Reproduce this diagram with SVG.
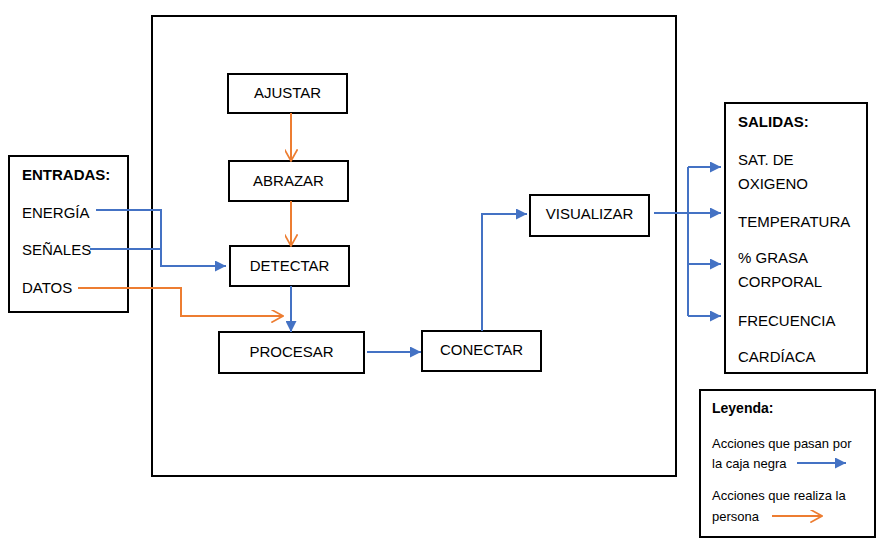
<svg xmlns="http://www.w3.org/2000/svg" width="882" height="547" viewBox="0 0 882 547">
<style>
.box{fill:#fff;stroke:#000;stroke-width:2}
.t{font-family:"Liberation Sans",Arial,sans-serif;font-size:15px;fill:#000}
.c{text-anchor:middle}
.b{font-weight:bold}
.s{font-family:"Liberation Sans",Arial,sans-serif;font-size:13px;fill:#000}
.blue{fill:none;stroke:#4472C4;stroke-width:2}
.orange{fill:none;stroke:#ED7D31;stroke-width:2}
</style>
<defs>
<marker id="ab" viewBox="0 0 10 10" refX="10" refY="5" markerWidth="5.5" markerHeight="5.5" orient="auto" markerUnits="strokeWidth"><path d="M0,0 L10,5 L0,10 z" fill="#4472C4"/></marker>
<marker id="ao" viewBox="0 0 10 10" refX="9" refY="5" markerWidth="6.5" markerHeight="6.5" orient="auto" markerUnits="strokeWidth"><path d="M0,0 L9,5 L0,10" fill="none" stroke="#ED7D31" stroke-width="1.3"/></marker>
</defs>
<rect width="882" height="547" fill="#fff"/>
<g id="blackbox"><rect class="box" x="152" y="16" width="524" height="460"/></g>
<g id="entradas"><rect class="box" x="9" y="156" width="119" height="156"/>
<text class="t b" x="22" y="180">ENTRADAS:</text>
<text class="t" x="22" y="218">ENERGÍA</text>
<text class="t" x="22" y="255">SEÑALES</text>
<text class="t" x="22" y="293">DATOS</text></g>
<g id="ajustar"><rect class="box" x="228" y="74" width="119" height="39"/><text class="t c" x="287.5" y="98">AJUSTAR</text></g>
<g id="abrazar"><rect class="box" x="229" y="161" width="119" height="40"/><text class="t c" x="288.5" y="186">ABRAZAR</text></g>
<g id="detectar"><rect class="box" x="230" y="246" width="119" height="40"/><text class="t c" x="289.5" y="271">DETECTAR</text></g>
<g id="procesar"><rect class="box" x="219" y="332" width="145" height="41"/><text class="t c" x="291.5" y="357">PROCESAR</text></g>
<g id="conectar"><rect class="box" x="422" y="331" width="119" height="40"/><text class="t c" x="481.5" y="355">CONECTAR</text></g>
<g id="visualizar"><rect class="box" x="530" y="195" width="119" height="41"/><text class="t c" x="589.5" y="219">VISUALIZAR</text></g>
<g id="salidas"><rect class="box" x="725" y="103" width="142" height="270"/>
<text class="t b" x="738" y="127">SALIDAS:</text>
<text class="t" x="738" y="165">SAT. DE</text>
<text class="t" x="738" y="189">OXIGENO</text>
<text class="t" x="738" y="227">TEMPERATURA</text>
<text class="t" x="738" y="263">% GRASA</text>
<text class="t" x="738" y="287">CORPORAL</text>
<text class="t" x="738" y="326">FRECUENCIA</text>
<text class="t" x="738" y="362">CARDÍACA</text></g>
<g id="leyenda"><rect class="box" x="700" y="390" width="175" height="147"/>
<text class="s b" x="712" y="413" style="font-size:14px">Leyenda:</text>
<text class="s" x="712" y="448">Acciones que pasan por</text>
<text class="s" x="712" y="468">la caja negra</text>
<text class="s" x="712" y="500">Acciones que realiza la</text>
<text class="s" x="712" y="521">persona</text>
<line class="blue" x1="797" y1="463" x2="846" y2="463" marker-end="url(#ab)"/>
<line class="orange" x1="772" y1="516" x2="822" y2="516" marker-end="url(#ao)"/></g>
<g id="connectors">
<line class="orange" x1="291" y1="113" x2="291" y2="161" marker-end="url(#ao)"/>
<line class="orange" x1="291" y1="201" x2="291" y2="246" marker-end="url(#ao)"/>
<polyline class="blue" points="96,210 161,210 161,266 226,266" marker-end="url(#ab)"/>
<line class="blue" x1="90" y1="249" x2="161" y2="249"/>
<polyline class="orange" points="78,288 181,288 181,316 283,316" marker-end="url(#ao)"/>
<line class="blue" x1="291" y1="286" x2="291" y2="332" marker-end="url(#ab)"/>
<line class="blue" x1="367" y1="352" x2="421" y2="352" marker-end="url(#ab)"/>
<polyline class="blue" points="482,331 482,214 527,214" marker-end="url(#ab)"/>
<line class="blue" x1="654" y1="213" x2="688" y2="213"/>
<line class="blue" x1="688" y1="167" x2="688" y2="316"/>
<line class="blue" x1="688" y1="167" x2="721" y2="167" marker-end="url(#ab)"/>
<line class="blue" x1="688" y1="213" x2="721" y2="213" marker-end="url(#ab)"/>
<line class="blue" x1="688" y1="264" x2="721" y2="264" marker-end="url(#ab)"/>
<line class="blue" x1="688" y1="316" x2="721" y2="316" marker-end="url(#ab)"/>
</g>
</svg>
